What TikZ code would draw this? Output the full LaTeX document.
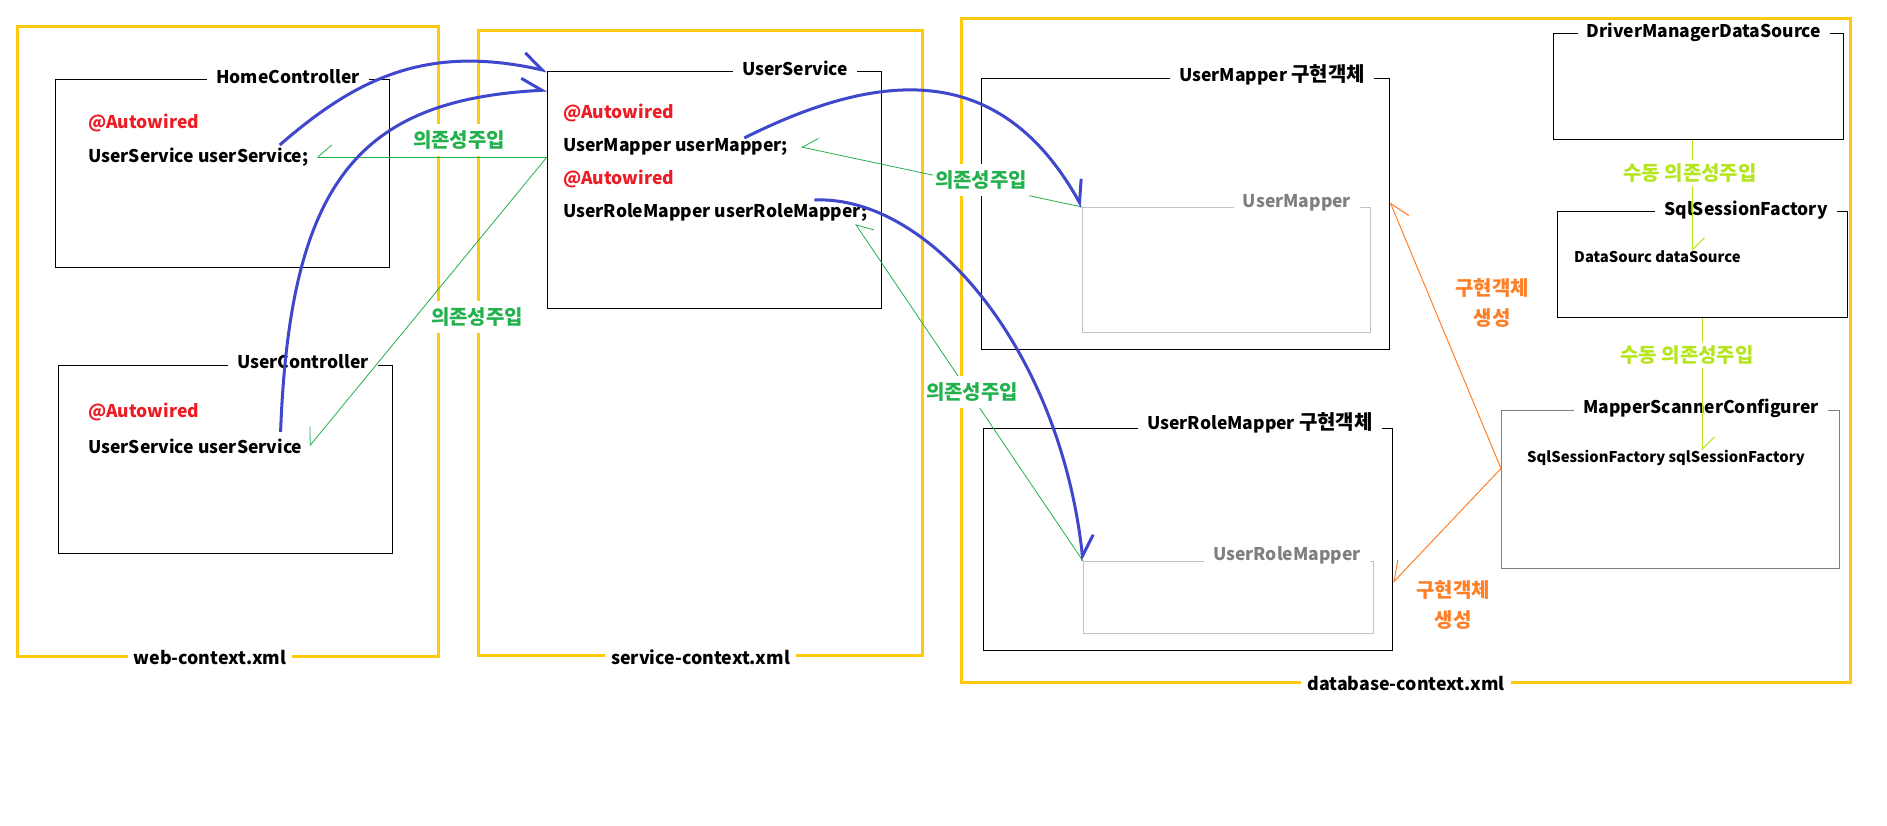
\documentclass[tikz,border=0pt]{standalone}
\usepackage{fontspec}
\setmainfont{Noto Sans CJK KR}
\usetikzlibrary{arrows.meta}

\definecolor{ctxyellow}{HTML}{FFC90E}
\definecolor{wireblue}{HTML}{3F48CC}
\definecolor{digreen}{HTML}{22B14C}
\definecolor{manualgreen}{HTML}{B5E61D}
\definecolor{createorange}{HTML}{FF7F27}
\definecolor{autored}{HTML}{ED1C24}
\definecolor{innergray}{HTML}{C3C3C3}
\definecolor{titlegray}{HTML}{7F7F7F}

\newcommand{\krtext}[1]{{\fontsize{20}{24}\selectfont #1}}

\tikzset{
    ctxframe/.style={draw=ctxyellow, line width=3pt, inner sep=0pt, anchor=north west},
    ctxlabel/.style={fill=white, inner xsep=6pt, inner ysep=2pt, font=\fontsize{17.8}{22}\selectfont\bfseries},
    beanbox/.style={draw=black, line width=1pt, inner sep=0pt, anchor=north west},
    innerbox/.style={draw=innergray, line width=1.2pt, inner sep=0pt, anchor=north west},
    beantitle/.style={fill=white, inner xsep=9pt, inner ysep=1pt, font=\fontsize{17.5}{22}\selectfont\bfseries},
    fieldtxt/.style={anchor=west, inner sep=0pt, font=\fontsize{17.5}{22}\selectfont\bfseries},
    smallfield/.style={anchor=west, inner sep=0pt, font=\fontsize{14.8}{18}\selectfont\bfseries},
    autowired/.style={fieldtxt, text=autored},
    dilabel/.style={fill=white, text=digreen, inner xsep=2pt, inner ysep=7pt, font=\fontsize{20}{24}\selectfont\bfseries},
    manuallabel/.style={fill=white, text=manualgreen, inner xsep=2pt, inner ysep=4pt, font=\fontsize{20}{24}\selectfont\bfseries},
    createlabel/.style={text=createorange, align=center, font=\fontsize{20}{30}\selectfont\bfseries},
    diarrow/.style={draw=digreen, line width=0.8pt, -{Straight Barb[harpoon, swap, length=14pt, width=24pt]}},
    manualarrow/.style={draw=manualgreen, line width=1pt, -{Straight Barb[harpoon, length=12pt, width=24pt]}},
    createarrow/.style={draw=createorange, line width=1pt, -{Straight Barb[harpoon, swap, length=18pt, width=24pt]}},
    wirearrow/.style={draw=wireblue, line width=3pt, -{Straight Barb[harpoon, length=20pt, width=26pt]}},
}

\begin{document}
\begin{tikzpicture}[x=1pt, y=-1pt]
    \path[use as bounding box, fill=white] (0,0) rectangle (1887,825);

    % 컨텍스트 영역
    \node[ctxframe, minimum width=421pt, minimum height=630pt] (webctx) at (16,25) {};
    \node[ctxframe, minimum width=444pt, minimum height=625pt] (svcctx) at (477,29) {};
    \node[ctxframe, minimum width=889pt, minimum height=664pt] (dbctx) at (960,17) {};
    \node[ctxlabel] (webctxlbl) at ([xshift=-18pt]webctx.south) {web-context.xml};
    \node[ctxlabel] (svcctxlbl) at (svcctx.south) {service-context.xml};
    \node[ctxlabel] (dbctxlbl) at (dbctx.south) {database-context.xml};

    % 빈 객체
    \node[beanbox, minimum width=334pt, minimum height=188pt] (home) at (55,79) {};
    \node[beanbox, minimum width=334pt, minimum height=188pt] (userCtl) at (58,365) {};
    \node[beanbox, minimum width=334pt, minimum height=237pt] (userSvc) at (547,71) {};
    \node[beanbox, minimum width=408pt, minimum height=271pt] (umImpl) at (981,78) {};
    \node[innerbox, minimum width=288pt, minimum height=125pt] (umInner) at (1082,207) {};
    \node[beanbox, minimum width=409pt, minimum height=222pt] (urmImpl) at (983,428) {};
    \node[innerbox, minimum width=290pt, minimum height=72pt] (urmInner) at (1083,561) {};
    \node[beanbox, minimum width=290pt, minimum height=106pt] (dmds) at (1553,33) {};
    \node[beanbox, minimum width=290pt, minimum height=106pt] (ssf) at (1557,211) {};
    \node[beanbox, draw=titlegray, minimum width=338pt, minimum height=158pt] (msc) at (1501,410) {};

    % 빈 이름
    \node[beantitle] (homeT) at (288,77) {HomeController};
    \node[beantitle] (userCtlT) at (303,362) {UserController};
    \node[beantitle] (userSvcT) at (795,68) {UserService};
    \node[beantitle] (umImplT) at (1272,75) {UserMapper \krtext{구현객체}};
    \node[beantitle, text=titlegray] (umInnerT) at (1297,203) {UserMapper};
    \node[beantitle] (urmImplT) at (1260,423) {UserRoleMapper \krtext{구현객체}};
    \node[beantitle, text=titlegray] (urmInnerT) at (1287,555) {UserRoleMapper};
    \node[beantitle] (dmdsT) at (1704,32) {DriverManagerDataSource};
    \node[beantitle] (ssfT) at (1746,210) {SqlSessionFactory};
    \node[beantitle] (mscT) at (1701,408) {MapperScannerConfigurer};

    % 필드
    \node[autowired] (hcAuto) at (88,123) {@Autowired};
    \node[fieldtxt] (hcField) at (88,157) {UserService userService;};
    \node[autowired] (ucAuto) at (88,412) {@Autowired};
    \node[fieldtxt] (ucField) at (88,446) {UserService userService};
    \node[autowired] (usAuto1) at (563,113) {@Autowired};
    \node[fieldtxt] (umField) at (563,147) {UserMapper userMapper;};
    \node[autowired] (usAuto2) at (563,179) {@Autowired};
    \node[fieldtxt] (urmField) at (563,212) {UserRoleMapper userRoleMapper;};
    \node[smallfield] (dsField) at (1574,257) {DataSourc dataSource};
    \node[smallfield] (sfField) at (1527,458) {SqlSessionFactory sqlSessionFactory};

    % 의존성주입
    \draw[diarrow] (userSvc.west |- hcField.east) -- ([xshift=8pt]hcField.east);
    \draw[diarrow] (userSvc.west |- hcField.east) -- ([xshift=7pt]ucField.east);
    \draw[diarrow] (umInner.north west) -- ([xshift=13pt]umField.east);
    \draw[diarrow] (urmInner.north west) -- ([xshift=-12pt,yshift=-12pt]urmField.east);

    % 수동 의존성주입
    \coordinate (dmdsOut) at ([xshift=-6pt]dmds.south);
    \draw[manualarrow] (dmdsOut) -- (dmdsOut |- dsField.north);
    \draw[manualarrow] (ssf.south) -- (ssf.south |- sfField.north);

    % 구현객체 생성
    \coordinate (mscOut) at ([yshift=21pt]msc.west);
    \draw[createarrow] (mscOut) -- ([yshift=12pt]umImpl.east);
    \draw[createarrow] (mscOut) -- ([yshift=-43pt]urmImpl.east);

    \node[dilabel] (di1) at (459,140) {의존성주입};
    \node[dilabel] (di2) at (477,317) {의존성주입};
    \node[dilabel] (di3) at (981,180) {의존성주입};
    \node[dilabel] (di4) at (972,392) {의존성주입};
    \node[manuallabel] (man1) at (1690,173) {수동 의존성주입};
    \node[manuallabel] (man2) at (1687,355) {수동 의존성주입};
    \node[createlabel] (cr1) at (1492,303) {구현객체\\생성};
    \node[createlabel] (cr2) at (1453,605) {구현객체\\생성};

    % @Autowired 연결
    \draw[wirearrow] ([xshift=-29pt,yshift=12pt]hcField.east) .. controls (360,75) and (430,45) .. (userSvc.north west);
    \draw[wirearrow] ([xshift=-22pt,yshift=14pt]ucField.east) .. controls (290,180) and (360,100) .. ([yshift=-19pt]userSvc.north west);
    \draw[wirearrow] ([xshift=-44pt,yshift=9pt]umField.east) .. controls (880,70) and (1000,60) .. (umInner.north west);
    \draw[wirearrow] ([xshift=-53pt,yshift=12pt]urmField.east) .. controls (930,195) and (1060,350) .. (urmInner.north west);
\end{tikzpicture}
\end{document}
